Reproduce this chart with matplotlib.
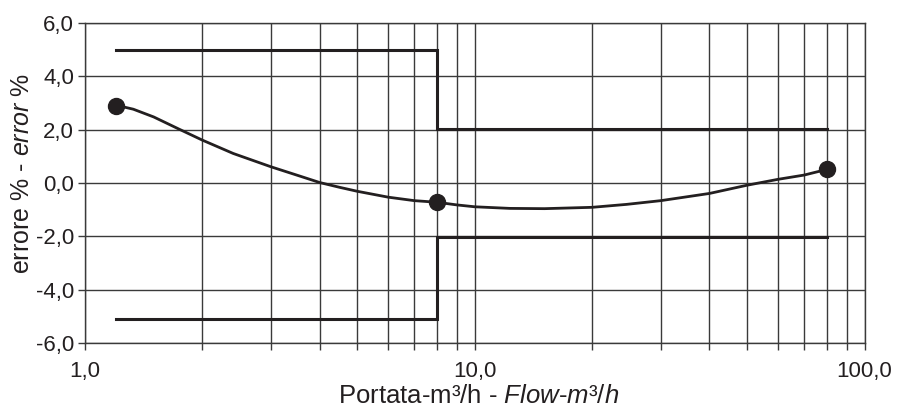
import matplotlib
matplotlib.use('Agg')
import matplotlib.pyplot as plt
from matplotlib.ticker import FixedLocator, FixedFormatter, NullFormatter

# fonts: Arial-like sans, italic part through mathtext
plt.rcParams['font.family'] = 'Liberation Sans'
plt.rcParams['mathtext.fontset'] = 'custom'
plt.rcParams['mathtext.rm'] = 'Liberation Sans'
plt.rcParams['mathtext.it'] = 'Liberation Sans:italic'

# measured points (flow m3/h, error %)
flow_pts = [1.2, 8.0, 80.0]
err_pts = [2.9, -0.72, 0.51]

# smooth curve
curve_x = [1.2, 1.26, 1.33, 1.5, 1.75, 2.0, 2.4, 3.0, 3.56, 4.0, 4.5, 5.0,
           6.0, 7.0, 8.0, 9.0, 10.0, 12.3, 15.1, 20.0, 24.5, 30.0, 40.0,
           50.0, 60.0, 70.0, 80.0]
curve_y = [2.9, 2.85, 2.77, 2.48, 2.01, 1.61, 1.11, 0.61, 0.26, 0.02, -0.16,
           -0.31, -0.53, -0.66, -0.72, -0.82, -0.89, -0.95, -0.96, -0.91,
           -0.8, -0.66, -0.39, -0.08, 0.14, 0.3, 0.51]

# tolerance limits (step lines)
upper_x = [1.2, 8.0, 8.0, 80.0]
upper_y = [5.0, 5.0, 2.03, 2.03]
lower_x = [1.2, 8.0, 8.0, 80.0]
lower_y = [-5.08, -5.08, -2.03, -2.03]

# axis ticks
x_major = [1, 10, 100]
x_major_labels = ['1,0', '10,0', '100,0']
x_minor = [2, 3, 4, 5, 6, 7, 8, 9, 20, 30, 40, 50, 60, 70, 80, 90]
y_ticks = [-6, -4, -2, 0, 2, 4, 6]
y_labels = ['-6,0', '-4,0', '-2,0', '0,0', '2,0', '4,0', '6,0']

ink = '#231f20'
gridc = '#3a3a3a'

fig = plt.figure(figsize=(8.98, 4.05), dpi=100)
ax = fig.add_axes([0.0947, 0.153, 0.868, 0.790])

ax.set_xscale('log')
ax.set_xlim(1, 100)
ax.set_ylim(-6, 6)

ax.xaxis.set_major_locator(FixedLocator(x_major))
ax.xaxis.set_major_formatter(FixedFormatter(x_major_labels))
ax.xaxis.set_minor_locator(FixedLocator(x_minor))
ax.xaxis.set_minor_formatter(NullFormatter())
ax.set_yticks(y_ticks)
ax.set_yticklabels(y_labels)

ax.grid(True, which='both', axis='x', color=gridc, linewidth=1.0)
ax.grid(True, which='major', axis='y', color=gridc, linewidth=1.0)
ax.set_axisbelow(True)

for s in ax.spines.values():
    s.set_color(gridc)
    s.set_linewidth(1.0)

ax.tick_params(axis='both', which='both', direction='out', color=gridc,
               width=1.0, labelsize=16, labelcolor=ink)
ax.tick_params(axis='x', which='both', length=5, pad=8)
ax.tick_params(axis='y', which='major', length=5, pad=3)

# limit lines
ax.plot(upper_x, upper_y, color=ink, linewidth=2.2, solid_joinstyle='miter')
ax.plot(lower_x, lower_y, color=ink, linewidth=2.2, solid_joinstyle='miter')

# error curve and points
ax.plot(curve_x, curve_y, color=ink, linewidth=2.0, solid_capstyle='round',
        solid_joinstyle='round')
ax.plot(flow_pts, err_pts, 'o', color=ink, markersize=11.5, zorder=5)

ax.set_xlabel(r'Portata-m³/h - $\mathit{Flow}$-$\mathit{m³/h}$', fontsize=18.5,
              color=ink)
ax.xaxis.set_label_coords(0.505, -0.127)
ax.set_ylabel(r'errore % - $\mathit{error}$ %', fontsize=18, color=ink)
ax.yaxis.set_label_coords(-0.066, 0.531)

fig.savefig('out.png', dpi=100)
